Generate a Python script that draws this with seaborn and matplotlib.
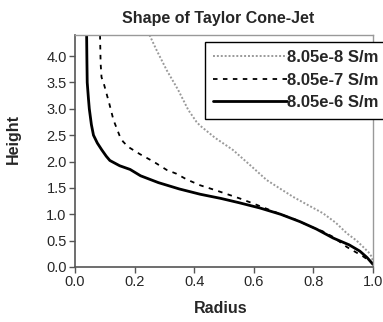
import numpy as np
import pandas as pd
import seaborn as sns
import matplotlib.pyplot as plt

sns.set_style("white")
plt.rcParams['font.family'] = ['Liberation Sans', 'DejaVu Sans']

# conductivity series (radius, height)
labels = ["8.05e-8 S/m", "8.05e-7 S/m", "8.05e-6 S/m"]

r_e8 = [0.25, 0.274, 0.308, 0.346, 0.38, 0.408, 0.42, 0.47, 0.53, 0.59, 0.643, 0.69,
        0.732, 0.78, 0.832, 0.875, 0.912, 0.945, 0.967, 0.985, 0.995, 1.0]
h_e8 = [4.4, 4.11, 3.73, 3.36, 2.98, 2.75, 2.68, 2.45, 2.22, 1.92, 1.65, 1.48,
        1.33, 1.18, 1.02, 0.84, 0.64, 0.5, 0.38, 0.28, 0.2, 0.1]

r_e7 = [0.084, 0.086, 0.089, 0.098, 0.115, 0.129, 0.151, 0.161, 0.178, 0.218, 0.263,
        0.308, 0.34, 0.375, 0.42, 0.475, 0.553, 0.6, 0.654, 0.7, 0.744, 0.789, 0.83,
        0.866, 0.912, 0.967, 1.0]
h_e7 = [4.4, 3.86, 3.6, 3.45, 3.1, 2.79, 2.47, 2.38, 2.28, 2.14, 2.0,
        1.84, 1.77, 1.66, 1.55, 1.45, 1.3, 1.2, 1.08, 0.98, 0.89, 0.77, 0.68,
        0.57, 0.38, 0.2, 0.07]

r_e6 = [0.039, 0.040, 0.041, 0.045, 0.048, 0.055, 0.062, 0.075, 0.09, 0.105, 0.117,
        0.15, 0.185, 0.22, 0.28, 0.35, 0.42, 0.49, 0.55, 0.62, 0.69, 0.755, 0.81,
        0.866, 0.92, 0.956, 0.98, 1.0]
h_e6 = [4.4, 3.9, 3.5, 3.2, 3.0, 2.7, 2.5, 2.35, 2.22, 2.1, 2.02,
        1.92, 1.85, 1.73, 1.6, 1.48, 1.38, 1.3, 1.22, 1.12, 1.0, 0.86, 0.72,
        0.55, 0.42, 0.3, 0.18, 0.05]

x_ticks = [0.0, 0.2, 0.4, 0.6, 0.8, 1.0]
y_ticks = [0.0, 0.5, 1.0, 1.5, 2.0, 2.5, 3.0, 3.5, 4.0]

fig = plt.figure(figsize=(3.83, 3.22), dpi=100)
ax = fig.add_axes([75 / 383, 55 / 322, 298 / 383, 232 / 322])

sns.lineplot(x=r_e8, y=h_e8, sort=False, estimator=None, ax=ax, color="#9a9a9a",
             lw=1.4, ls=(0, (1, 1)), label=labels[0])
sns.lineplot(x=r_e7, y=h_e7, sort=False, estimator=None, ax=ax, color="black",
             lw=1.3, ls=(0, (2.5, 3)), label=labels[1])
sns.lineplot(x=r_e6, y=h_e6, sort=False, estimator=None, ax=ax, color="black",
             lw=2.0, label=labels[2])

ax.set_xlim(0, 1.0)
ax.set_ylim(0, 4.4)
ax.set_xticks(x_ticks)
ax.set_yticks(y_ticks)
ax.set_xticklabels([f"{v:.1f}" for v in x_ticks], fontsize=10.5)
ax.set_yticklabels([f"{v:.1f}" for v in y_ticks], fontsize=10.5)
ax.tick_params(axis="both", direction="out", length=4, width=1, color="#555555",
               pad=2, left=True, bottom=True)

for side in ["top", "right"]:
    ax.spines[side].set_color("#999999")
    ax.spines[side].set_linewidth(1)
for side in ["left", "bottom"]:
    ax.spines[side].set_color("#555555")
    ax.spines[side].set_linewidth(1.2)

ax.set_xlabel("Radius", fontsize=11.5, fontweight="bold")
ax.set_ylabel("Height", fontsize=11.5, fontweight="bold")
ax.xaxis.set_label_coords(0.49, -0.145)
ax.yaxis.set_label_coords(-0.18, 0.55)

fig.text(218 / 383, 1 - 18 / 322, "Shape of Taylor Cone-Jet", ha="center", va="center",
         fontsize=11.5, fontweight="bold")

leg = ax.legend(loc="upper left", bbox_to_anchor=(0.436, 0.97), frameon=True,
                fancybox=False, edgecolor="black", framealpha=1,
                prop={"size": 12, "weight": "bold"}, handlelength=4.4,
                handletextpad=0.05, borderpad=0.5, labelspacing=0.45,
                borderaxespad=0)
leg.get_frame().set_linewidth(1)
leg.set_clip_on(False)

fig.savefig("out.png", dpi=100)
